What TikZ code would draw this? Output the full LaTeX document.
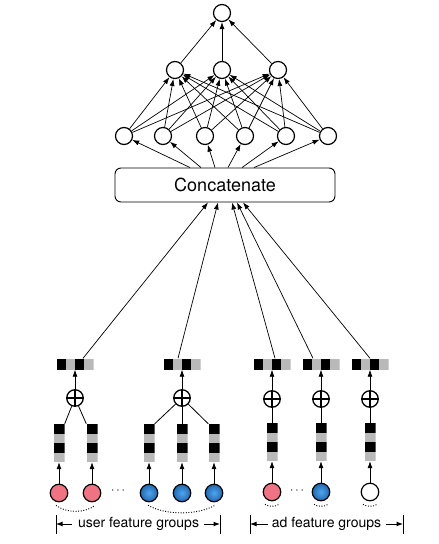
\documentclass[tikz,border=0pt]{standalone}
\usepackage{fontspec}
\setmainfont{TeX Gyre Heros}
\usetikzlibrary{arrows.meta,calc}
\definecolor{cellgray}{RGB}{185,185,185}
\definecolor{pinkf}{RGB}{240,115,132}
\definecolor{bluein}{RGB}{80,165,235}
\definecolor{blueout}{RGB}{30,105,180}
\begin{document}
\begin{tikzpicture}[x=1pt,y=-1pt,
 neuron/.style={circle,draw,line width=1.2pt,minimum size=17pt,inner sep=0pt,fill=white},
 conn/.style={-{Latex[length=7pt,width=5pt]},line width=0.7pt},
 plain/.style={line width=0.8pt},
 feat/.style={circle,draw,line width=1.2pt,minimum size=17.5pt,inner sep=0pt},
 pinkfeat/.style={feat,fill=pinkf},
 bluefeat/.style={feat,inner color=bluein,outer color=blueout},
 whitefeat/.style={feat,fill=white},
 opl/.style={circle,draw,line width=1.3pt,minimum size=16.5pt,inner sep=0pt,
   path picture={\draw[line width=1.2pt] (path picture bounding box.north) -- (path picture bounding box.south);
                 \draw[line width=1.2pt] (path picture bounding box.west) -- (path picture bounding box.east);}},
 vcol/.style={rectangle,inner sep=0pt,minimum width=11pt,minimum height=38pt,
  path picture={
   \fill[black] (path picture bounding box.north west) rectangle ([yshift=-9.5pt]path picture bounding box.north east);
   \fill[cellgray] ([yshift=-9.5pt]path picture bounding box.north west) rectangle ([yshift=-19pt]path picture bounding box.north east);
   \fill[black] ([yshift=-19pt]path picture bounding box.north west) rectangle ([yshift=-28.5pt]path picture bounding box.north east);
   \fill[cellgray] ([yshift=-28.5pt]path picture bounding box.north west) rectangle (path picture bounding box.south east);
  }},
 hvec/.style={rectangle,inner sep=0pt,minimum width=37pt,minimum height=11pt,
  path picture={
   \fill[black] (path picture bounding box.north west) rectangle ([xshift=9.25pt]path picture bounding box.south west);
   \fill[cellgray] ([xshift=9.25pt]path picture bounding box.north west) rectangle ([xshift=18.5pt]path picture bounding box.south west);
   \fill[black] ([xshift=18.5pt]path picture bounding box.north west) rectangle ([xshift=27.75pt]path picture bounding box.south west);
   \fill[cellgray] ([xshift=27.75pt]path picture bounding box.north west) rectangle (path picture bounding box.south east);
  }},
 dots/.style={dash pattern=on 1pt off 1.6pt,line width=0.9pt},
 lab/.style={inner sep=0pt,font=\fontsize{14}{16}\selectfont},
 brk/.style={-{Latex[length=6.5pt,width=5pt]},line width=1pt}
]
\useasboundingbox (0,0) rectangle (439,544);

% MLP
\node[neuron] (t) at (222,13) {};
\node[neuron] (m1) at (175,70) {};
\node[neuron] (m2) at (222,70) {};
\node[neuron] (m3) at (278,70) {};
\foreach \i/\x in {1/124,2/163,3/205,4/245,5/286,6/328}
  \node[neuron] (l\i) at (\x,136) {};
\foreach \m in {m1,m2,m3} \draw[conn] (\m) -- (t);
\foreach \i in {1,...,6}
  \foreach \m in {m1,m2,m3}
    \draw[conn] (l\i) -- (\m);

\node[draw,line width=0.9pt,rounded corners=6pt,minimum width=220pt,minimum height=34pt,
      font=\fontsize{18}{20}\selectfont] (box) at (225,185) {Concatenate};
\foreach \i/\d in {1/-35,2/-24,3/-10,4/3,5/17,6/29}
  \draw[conn] ([xshift=\d pt]box.north) -- (l\i);

% user group 1
\node[hvec] (g1v) at (75,364) {};
\node[opl] (g1p) at (75,398) {};
\node[vcol] (g1c1) at (59,443) {};
\node[vcol] (g1c2) at (92,443) {};
\node[pinkfeat] (g1f1) at (59,493) {};
\node[pinkfeat] (g1f2) at (92,493) {};
\draw[conn] (g1p) -- (g1v);
\draw[plain] (g1c1.north east) -- (g1p);
\draw[plain] (g1c2.north west) -- (g1p);
\draw[conn] (g1f1) -- (g1c1);
\draw[conn] (g1f2) -- (g1c2);
\node (dotsA) at (118,491) {\fontsize{13}{14}\selectfont $\cdots$};

% user group 2
\node[hvec] (g2v) at (182,364) {};
\node[opl] (g2p) at (182,398) {};
\node[vcol] (g2c1) at (149,443) {};
\node[vcol] (g2c2) at (182,443) {};
\node[vcol] (g2c3) at (214,443) {};
\node[bluefeat] (g2f1) at (149,493) {};
\node[bluefeat] (g2f2) at (182,493) {};
\node[bluefeat] (g2f3) at (214,493) {};
\draw[conn] (g2p) -- (g2v);
\draw[plain] (g2c1.north east) -- (g2p);
\draw[plain] (g2c2.north) -- (g2p);
\draw[plain] (g2c3.north west) -- (g2p);
\draw[conn] (g2f1) -- (g2c1);
\draw[conn] (g2f2) -- (g2c2);
\draw[conn] (g2f3) -- (g2c3);

% ad groups
\foreach \k/\x/\sty in {1/272/pinkfeat,2/321/bluefeat,3/370/whitefeat}{
  \node[hvec] (a\k v) at (\x,364) {};
  \node[opl] (a\k p) at (\x,399) {};
  \node[vcol] (a\k c) at (\x,442) {};
  \node[\sty] (a\k f) at (\x,492) {};
  \draw[conn] (a\k p) -- (a\k v);
  \draw[plain] (a\k c.north) -- (a\k p);
  \draw[conn] (a\k f) -- (a\k c);
  \draw[dots] ([xshift=-7pt,yshift=-3pt]a\k f.south) .. controls +(3,2.5) and +(-3,2.5) .. ([xshift=7pt,yshift=-3pt]a\k f.south);
}
\node (dotsB) at (297,491) {\fontsize{13}{14}\selectfont $\cdots$};

% dotted arcs under user groups
\draw[dots] ([xshift=-3pt,yshift=-3pt]g1f1.south) .. controls +(10,8) and +(-10,8) .. ([xshift=3pt,yshift=-3pt]g1f2.south);
\draw[dots] ([xshift=-1pt,yshift=-3pt]g2f1.south) .. controls +(18,10) and +(-18,10) .. ([xshift=1pt,yshift=-3pt]g2f3.south);

% to concatenate
\draw[conn] ([xshift=8pt]g1v.north) -- ([xshift=-17pt]box.south);
\draw[conn] ([xshift=-4pt]g2v.north) -- ([xshift=-7pt]box.south);
\draw[conn] ([xshift=3pt]a1v.north) -- ([xshift=7pt]box.south);
\draw[conn] ([xshift=-8pt]a2v.north) -- ([xshift=12pt]box.south);
\draw[conn] (a3v.north) -- ([xshift=18pt]box.south);

% labels
\node[lab] (ul) at (138.5,524) {user feature groups};
\coordinate (ulL) at (56,524);
\coordinate (ulR) at (220,524);
\draw[line width=0.9pt] (56,515) -- (56,534);
\draw[line width=0.9pt] (220,515) -- (220,534);
\draw[brk] ([xshift=-6pt]ul.west) -- (ulL);
\draw[brk] ([xshift=5pt]ul.east) -- (ulR);

\node[lab] (al) at (326.5,524) {ad feature groups};
\coordinate (alL) at (250,524);
\coordinate (alR) at (403,524);
\draw[line width=0.9pt] (250,515) -- (250,534);
\draw[line width=0.9pt] (403,515) -- (403,534);
\draw[brk] ([xshift=-4pt]al.west) -- (alL);
\draw[brk] ([xshift=5pt]al.east) -- (alR);
\end{tikzpicture}
\end{document}
